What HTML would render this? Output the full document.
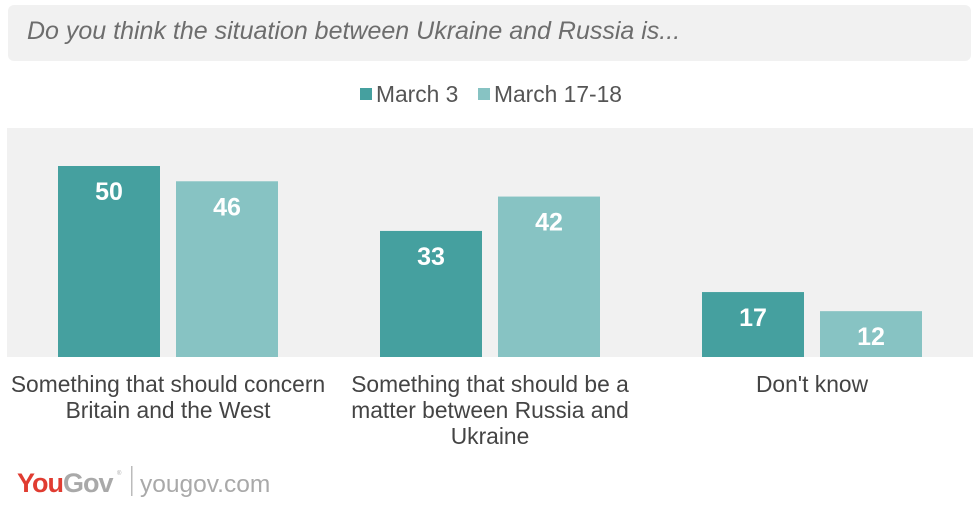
<!DOCTYPE html>
<html><head><meta charset="utf-8">
<style>
body{margin:0;background:#fff;width:978px;height:505px;overflow:hidden;font-family:"Liberation Sans",Arial,sans-serif}
</style></head>
<body>
<svg id="chart" width="978" height="505" xmlns="http://www.w3.org/2000/svg">
<rect x="8" y="5" width="963" height="56" rx="6" fill="#f1f1f1"/>
<text x="27" y="39" font-size="25" font-style="italic" fill="#6d6d6d">Do you think the situation between Ukraine and Russia is...</text>
<g>
<rect x="360" y="88" width="12" height="12" fill="#45a09f"/>
<text x="376" y="102" font-size="22.8" fill="#555">March 3</text>
<rect x="478" y="88" width="12" height="12" fill="#87c3c3"/>
<text x="494" y="102" font-size="22.8" fill="#555">March 17-18</text>
</g>
<rect x="7" y="128" width="966" height="229" fill="#f1f1f1"/>
<g id="bars"></g>
<g id="xlabels"></g>
<g>
<text x="17" y="492" font-size="27" font-weight="bold" letter-spacing="-1" fill="#e03c31">You<tspan fill="#a9a9a9">Gov</tspan></text>
<text x="117" y="475" font-size="6" fill="#aaa">®</text>
<rect x="131" y="466" width="1.5" height="30" fill="#bbb"/>
<text x="140" y="492" font-size="24.5" fill="#a9a9a9">yougov.com</text>
</g>
</svg>
<script>
const categories = [["Something that should concern","Britain and the West"],["Something that should be a","matter between Russia and","Ukraine"],["Don't know"]];
const seriesNames = ["March 3","March 17-18"];
const march3 = [50,33,17];
const march1718 = [46,42,12];
const series=[march3,march1718];
const colors=["#45a09f","#87c3c3"];
const base=357, unit=3.82, x0=7, groupW=322, barW=102, gap=16;
const y=v=>base-v*unit;
const ns="http://www.w3.org/2000/svg";
const bars=document.getElementById('bars'), xl=document.getElementById('xlabels');
categories.forEach((c,i)=>{
  const cx=x0+groupW*i+groupW/2;
  series.forEach((s,j)=>{
    const bx=cx-gap/2-barW+j*(barW+gap);
    const r=document.createElementNS(ns,'rect');
    
    
    r.setAttribute('x',bx);r.setAttribute('y',y(s[i]));r.setAttribute('width',barW);r.setAttribute('height',s[i]*unit);r.setAttribute('fill',colors[j]);
    bars.appendChild(r);
    const t=document.createElementNS(ns,'text');
    
    
    t.setAttribute('x',bx+barW/2);t.setAttribute('y',y(s[i])+34);t.setAttribute('text-anchor','middle');
    t.setAttribute('font-size','25');t.setAttribute('font-weight','bold');t.setAttribute('fill','#fff');
    t.textContent=s[i];bars.appendChild(t);
  });
  c.forEach((line,k)=>{
    const t=document.createElementNS(ns,'text');
    
    
    t.setAttribute('x',cx);t.setAttribute('y',392+k*26);t.setAttribute('text-anchor','middle');
    t.setAttribute('font-size','22.8');t.setAttribute('fill','#444');
    t.textContent=line;xl.appendChild(t);
  });
});
</script>
</body></html>
